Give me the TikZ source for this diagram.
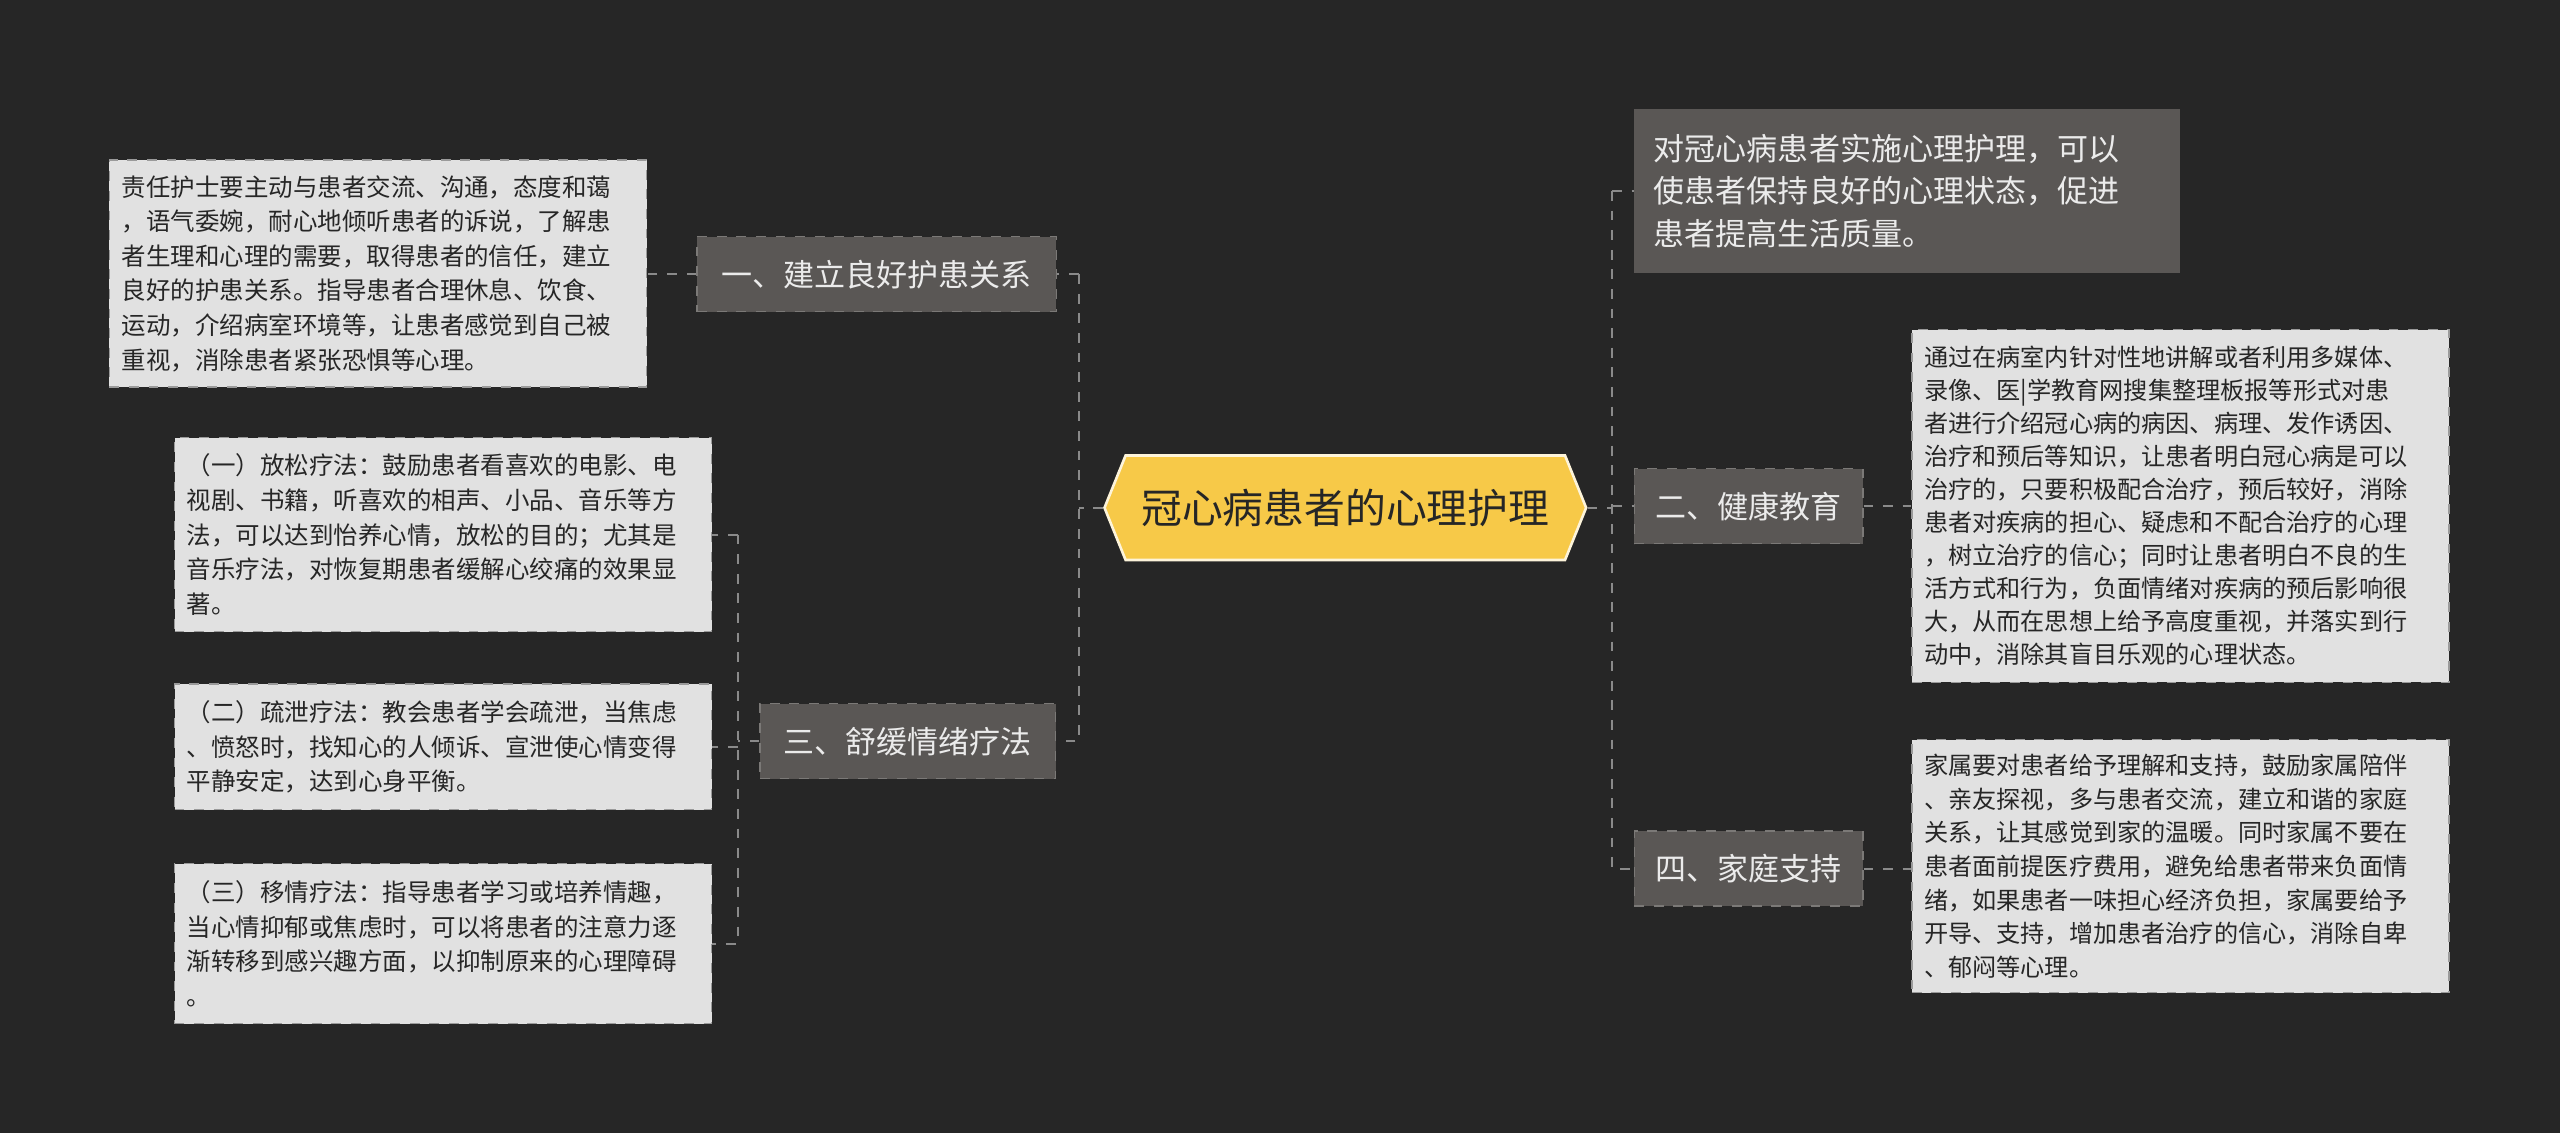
\documentclass[tikz,border=0pt]{standalone}
\usepackage{fontspec}
\setmainfont{Noto Sans CJK SC}
\usetikzlibrary{shapes.symbols}
\definecolor{bg}{HTML}{262626}
\definecolor{dbox}{HTML}{5A5755}
\definecolor{leaf}{HTML}{E1E1E1}
\definecolor{lbord}{HTML}{9A9A9A}
\definecolor{conn}{HTML}{8A8A8A}
\definecolor{cfill}{HTML}{F7C948}
\tikzset{
 mid/.style={fill=dbox,text=white!92!black,font=\fontsize{9.5pt}{12pt}\selectfont,inner sep=0pt,minimum height=23pt,draw=dbox!80!white,dashed},
 leafbox/.style={fill=leaf,draw=lbord,dashed,text=black!85,font=\fontsize{7.5pt}{10.6pt}\selectfont,align=left,inner sep=0pt,minimum width=164.5pt},
 link/.style={draw=conn,dashed,line width=0.6pt},
}
\begin{document}
\begin{tikzpicture}[x=0.5pt,y=-0.5pt]
\fill[bg] (0,0) rectangle (1568,694);
\node[signal,signal to=east and west,signal pointer angle=136,fill=cfill,draw=white!80!cfill,line width=0.8pt,minimum width=147.5pt,minimum height=32pt,inner sep=0pt,font=\fontsize{12.5pt}{14pt}\selectfont,text=black!85] (c) at (824,311) {冠心病患者的心理护理};
\node[mid,minimum width=110pt] (a) at (537,168) {一、建立良好护患关系};
\node[mid,minimum width=90.5pt] (b) at (556,454) {三、舒缓情绪疗法};
\node[mid,minimum width=70pt] (d) at (1071,310) {二、健康教育};
\node[mid,minimum width=70pt] (e) at (1071,532) {四、家庭支持};
\node[fill=dbox,text=white!92!black,font=\fontsize{9.5pt}{13pt}\selectfont,align=left,inner sep=0pt,minimum width=167pt,minimum height=50pt,text width=155pt] (t) at (1168,117) {对冠心病患者实施心理护理，可以\\使患者保持良好的心理状态，促进\\患者提高生活质量。};
\node[leafbox,minimum height=69.5pt,text width=157pt] (l1) at (231.5,167.5) {责任护士要主动与患者交流、沟通，态度和蔼\\，语气委婉，耐心地倾听患者的诉说，了解患\\者生理和心理的需要，取得患者的信任，建立\\良好的护患关系。指导患者合理休息、饮食、\\运动，介绍病室环境等，让患者感觉到自己被\\重视，消除患者紧张恐惧等心理。};
\node[leafbox,minimum height=59.5pt,text width=157pt] (l2) at (271.5,327.5) {（一）放松疗法：鼓励患者看喜欢的电影、电\\视剧、书籍，听喜欢的相声、小品、音乐等方\\法，可以达到怡养心情，放松的目的；尤其是\\音乐疗法，对恢复期患者缓解心绞痛的效果显\\著。};
\node[leafbox,minimum height=38.5pt,text width=157pt] (l3) at (271.5,457.5) {（二）疏泄疗法：教会患者学会疏泄，当焦虑\\、愤怒时，找知心的人倾诉、宣泄使心情变得\\平静安定，达到心身平衡。};
\node[leafbox,minimum height=49pt,text width=157pt] (l4) at (271.5,578) {（三）移情疗法：指导患者学习或培养情趣，\\当心情抑郁或焦虑时，可以将患者的注意力逐\\渐转移到感兴趣方面，以抑制原来的心理障碍\\。};
\node[leafbox,minimum height=108pt,text width=157pt,font=\fontsize{7.4pt}{10.1pt}\selectfont] (r1) at (1335.5,310) {通过在病室内针对性地讲解或者利用多媒体、\\录像、医|学教育网搜集整理板报等形式对患\\者进行介绍冠心病的病因、病理、发作诱因、\\治疗和预后等知识，让患者明白冠心病是可以\\治疗的，只要积极配合治疗，预后较好，消除\\患者对疾病的担心、疑虑和不配合治疗的心理\\，树立治疗的信心；同时让患者明白不良的生\\活方式和行为，负面情绪对疾病的预后影响很\\大，从而在思想上给予高度重视，并落实到行\\动中，消除其盲目乐观的心理状态。};
\node[leafbox,minimum height=77.5pt,text width=157pt,font=\fontsize{7.4pt}{10.3pt}\selectfont] (r2) at (1335.5,530.5) {家属要对患者给予理解和支持，鼓励家属陪伴\\、亲友探视，多与患者交流，建立和谐的家庭\\关系，让其感觉到家的温暖。同时家属不要在\\患者面前提医疗费用，避免给患者带来负面情\\绪，如果患者一味担心经济负担，家属要给予\\开导、支持，增加患者治疗的信心，消除自卑\\、郁闷等心理。};
% connectors
\draw[link] (c.west) -- ++(-15,0) coordinate (cl) (cl |- a.east) -- (a.east) (cl |- a.east) -- (cl |- b.east) -- (b.east);
\draw[link] (a.west) -- (l1.east |- a.west);
\coordinate (bl) at (452,454);
\draw[link] (b.west) -- (bl) (bl |- l2.east) -- (l2.east) (bl |- l2.east) -- (bl |- l4.east) -- (l4.east) (bl |- l3.east) -- (l3.east);
\draw[link] (c.east) -- ++(15,0) coordinate (cr) (cr |- t.west) -- (t.west) (cr |- t.west) -- (cr |- e.west) -- (e.west) (cr |- d.west) -- (d.west);
\draw[link] (d.east) -- (r1.west |- d.east);
\draw[link] (e.east) -- (r2.west |- e.east);
\end{tikzpicture}
\end{document}
